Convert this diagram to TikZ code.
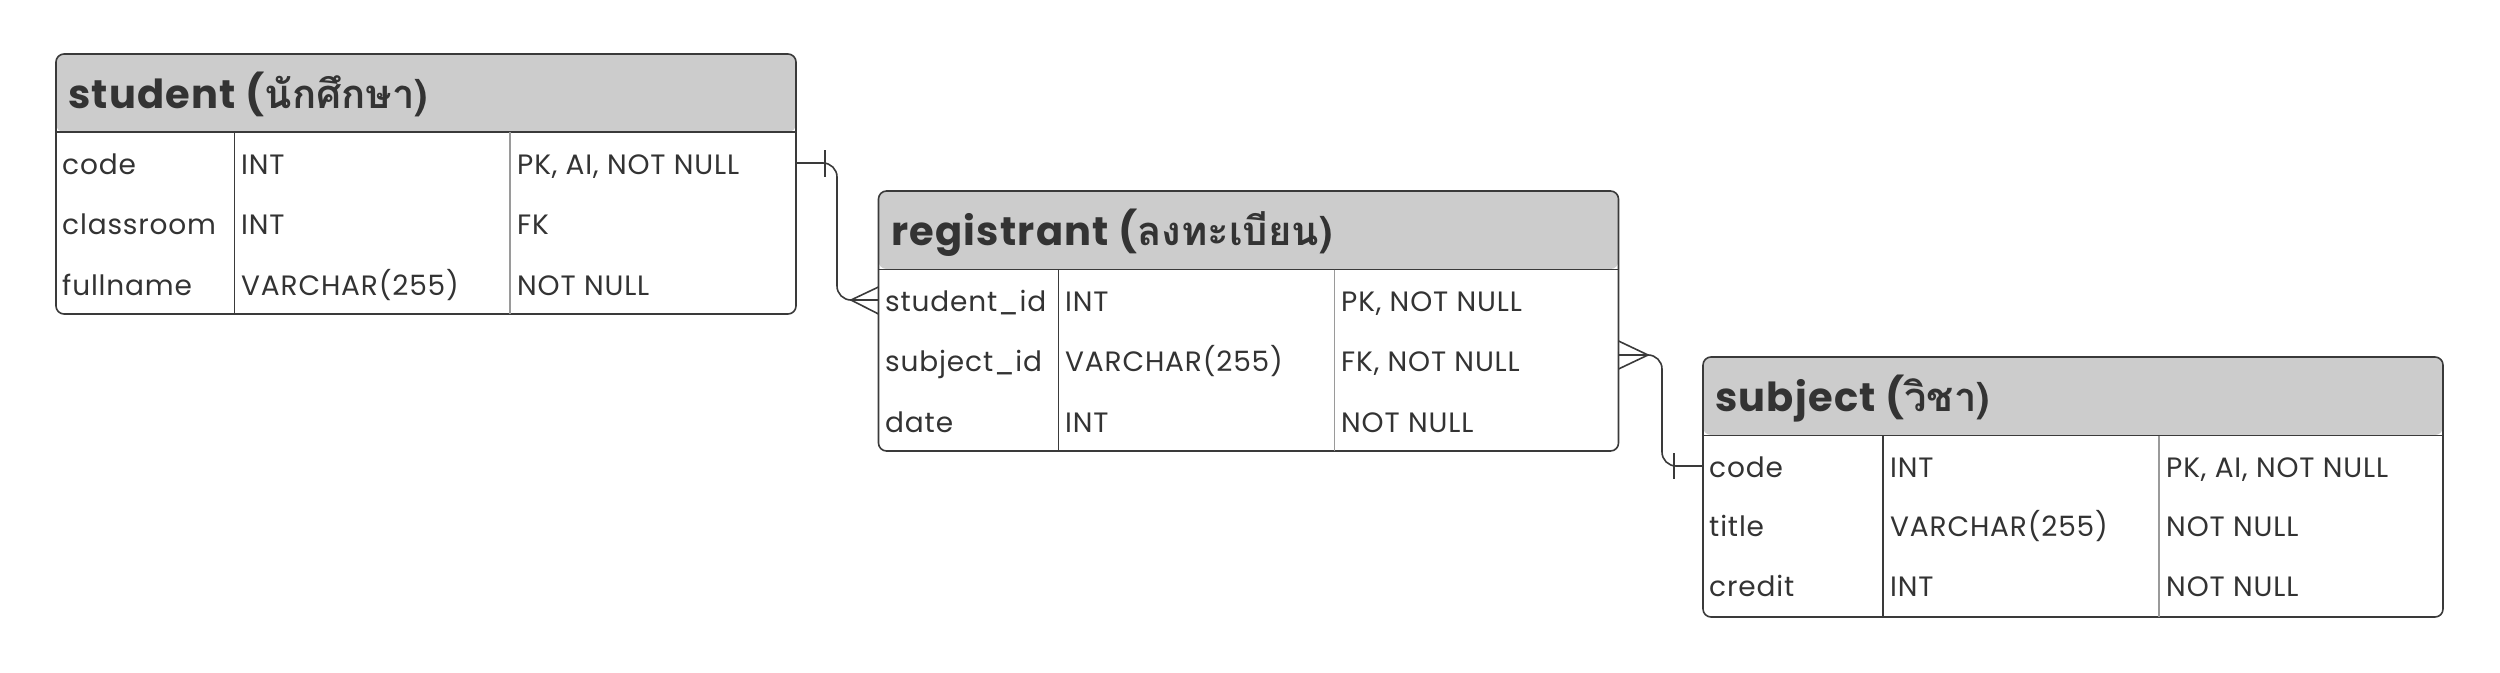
\documentclass[tikz,border=0pt]{standalone}
\usepackage{fontspec}
\setmainfont{Poppins}
\newfontfamily\cellfam[LetterSpace=3,WordSpace=2]{Poppins}
\newfontfamily\ttlfam[LetterSpace=3]{Poppins}
\newfontfamily\thaifont[Script=Thai]{Loma}
\definecolor{linec}{HTML}{3A3A3A}
\definecolor{hdrc}{HTML}{CCCCCC}
\definecolor{txtc}{HTML}{333333}
\definecolor{divc}{HTML}{9A9A9A}
\newcommand\cellfnt{\cellfam\fontsize{28}{30}\selectfont}
\newcommand\ttlfnt{\ttlfam\fontsize{40}{44}\selectfont\bfseries}
\tikzset{
  tbl/.style={draw=linec, line width=1.6pt, rounded corners=8pt, outer sep=0pt,
    minimum width=740pt, minimum height=260pt, anchor=north west, inner sep=0pt,
    path picture={\fill[hdrc] (path picture bounding box.north west) rectangle ([yshift=-78pt]path picture bounding box.north east);}},
  sep/.style={draw=linec, line width=1.6pt},
  div1/.style={draw=linec, line width=1.4pt},
  div2/.style={draw=divc, line width=1.2pt},
  cell/.style={anchor=base west, inner sep=0pt, text=txtc, font=\cellfnt},
  ttl/.style={anchor=base west, inner sep=0pt, text=txtc, font=\ttlfnt},
  conn/.style={draw=linec, line width=1.6pt},
}
\begin{document}
\begin{tikzpicture}[x=1pt,y=-1pt]
\useasboundingbox (0,0) rectangle (2500,672);
% ---------- student ----------
\node[tbl] (student) at (56,54) {};
\draw[sep] (56,132) -- (796,132);
\draw[div1] (234.5,132) -- (234.5,314);
\draw[div2] (510,132) -- (510,314);
\node[ttl] (st-t) at (68,108) {student (\thaifont นักศึกษา)};
\node[cell] (st-a1) at (62,174) {code};
\node[cell] (st-b1) at (241,174) {INT};
\node[cell] (st-c1) at (517,174) {PK, AI, NOT NULL};
\node[cell] (st-a2) at (62,234) {classroom};
\node[cell] (st-b2) at (241,234) {INT};
\node[cell] (st-c2) at (517,234) {FK};
\node[cell] (st-a3) at (62,295) {fullname};
\node[cell] (st-b3) at (241,295) {VARCHAR(255)};
\node[cell] (st-c3) at (517,295) {NOT NULL};
% ---------- registrant ----------
\node[tbl] (reg) at (878.5,191) {};
\draw[sep] (878.5,269.5) -- (1618.5,269.5);
\draw[div1] (1058.5,269.5) -- (1058.5,451);
\draw[div2] (1334.5,269.5) -- (1334.5,451);
\node[ttl] (rg-t) at (891,245) {registrant (\thaifont ลงทะเบียน)};
\node[cell] (rg-a1) at (885,311) {student\_id};
\node[cell] (rg-b1) at (1065,311) {INT};
\node[cell] (rg-c1) at (1341,311) {PK, NOT NULL};
\node[cell] (rg-a2) at (885,371) {subject\_id};
\node[cell] (rg-b2) at (1065,371) {VARCHAR(255)};
\node[cell] (rg-c2) at (1341,371) {FK, NOT NULL};
\node[cell] (rg-a3) at (885,432) {date};
\node[cell] (rg-b3) at (1065,432) {INT};
\node[cell] (rg-c3) at (1341,432) {NOT NULL};
% ---------- subject ----------
\node[tbl] (subj) at (1703,357) {};
\draw[sep] (1703,435.5) -- (2443,435.5);
\draw[div1] (1883,435.5) -- (1883,617);
\draw[div2] (2159,435.5) -- (2159,617);
\node[ttl] (sb-t) at (1715,411) {subject (\thaifont วิชา)};
\node[cell] (sb-a1) at (1709,477) {code};
\node[cell] (sb-b1) at (1890,477) {INT};
\node[cell] (sb-c1) at (2166,477) {PK, AI, NOT NULL};
\node[cell] (sb-a2) at (1709,536) {title};
\node[cell] (sb-b2) at (1890,536) {VARCHAR(255)};
\node[cell] (sb-c2) at (2166,536) {NOT NULL};
\node[cell] (sb-a3) at (1709,596) {credit};
\node[cell] (sb-b3) at (1890,596) {INT};
\node[cell] (sb-c3) at (2166,596) {NOT NULL};
% ---------- connector student.code -> registrant.student_id ----------
\coordinate (p1) at (796,163);
\coordinate (q1) at (878.5,300);
\coordinate (a1) at (851,300);
\draw[conn, rounded corners=14pt] (p1) -- (837,163) -- (837,300) -- (a1);
\draw[conn] (a1) -- (q1);
\draw[conn] (878.5,287) -- (a1) -- (878.5,314);
\draw[conn] (825,150) -- (825,177);
% ---------- connector registrant.subject_id -> subject.code ----------
\coordinate (p2) at (1618.5,355);
\coordinate (a2) at (1648,355);
\coordinate (q2) at (1703,466);
\draw[conn] (p2) -- (a2);
\draw[conn] (1618.5,341) -- (a2) -- (1618.5,369);
\draw[conn, rounded corners=14pt] (a2) -- (1662,355) -- (1662,466) -- (q2);
\draw[conn] (1674,453) -- (1674,479);
\end{tikzpicture}
\end{document}
